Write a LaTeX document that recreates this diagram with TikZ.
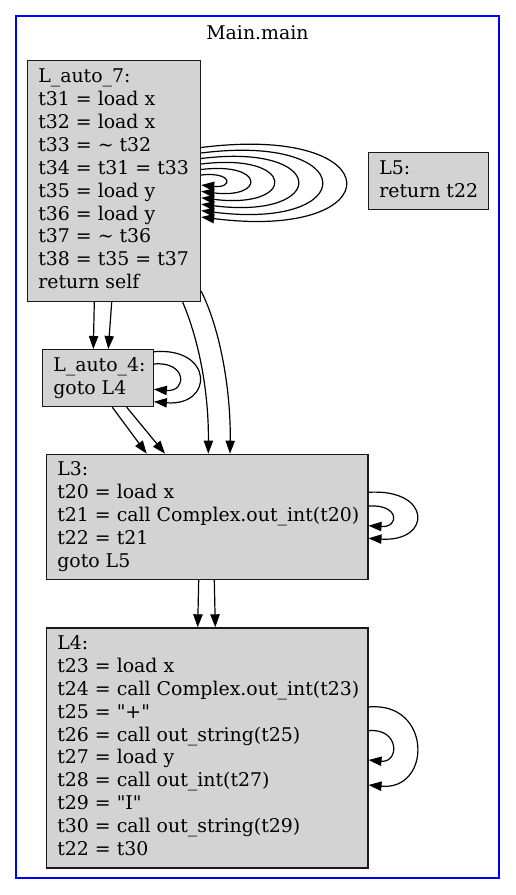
\documentclass[tikz,border=0pt]{standalone}
\usepackage{fontspec}
\newfontfamily\gv{DejaVu Serif}
\usetikzlibrary{arrows.meta,calc}
\definecolor{nodefill}{HTML}{D3D3D3}
\newcommand\gvtext[2]{\makebox[#1][l]{\begin{tabular}{@{}l@{}}#2\end{tabular}}}
\begin{document}
\begin{tikzpicture}[x=1pt,y=-1pt,
  blk/.style={draw=black!90, fill=nodefill, line width=1.2pt, rectangle,
    inner xsep=11pt, inner ysep=0pt, anchor=north west,
    font=\gv\fontsize{18.9}{22.9}\selectfont},
  edge/.style={draw=black, line width=1.2pt, -{Triangle[length=13pt,width=9.3pt]}},
  title/.style={font=\gv\fontsize{18.9}{22.9}\selectfont, inner sep=0pt}
]
\useasboundingbox (0,0) rectangle (515,895);
\draw[blue, line width=1.2pt] (16,16) rectangle (499,878);
\node[title] (ttl) at (257.5,33) {Main.main};

\node[blk, minimum height=241pt] (n7) at (26.7,60) {\gvtext{151.3pt}{L\_auto\_7:\\
t31 = load x\\
t32 = load x\\
t33 = \textasciitilde{} t32\\
t34 = t31 = t33\\
t35 = load y\\
t36 = load y\\
t37 = \textasciitilde{} t36\\
t38 = t35 = t37\\
return self}};

\node[blk, minimum height=57pt] (l5) at (367.7,152) {\gvtext{98.3pt}{L5:\\return t22}};

\node[blk, minimum height=57pt] (n4) at (41.7,349) {\gvtext{89pt}{L\_auto\_4:\\goto L4}};

\node[blk, minimum height=125.3pt] (l3) at (45.7,453.7) {\gvtext{299.6pt}{L3:\\
t20 = load x\\
t21 = call Complex.out\_int(t20)\\
t22 = t21\\
goto L5}};

\node[blk, minimum height=240pt] (l4) at (45.7,627.3) {\gvtext{299.6pt}{L4:\\
t23 = load x\\
t24 = call Complex.out\_int(t23)\\
t25 = \symbol{34}+\symbol{34}\\
t26 = call out\_string(t25)\\
t27 = load y\\
t28 = call out\_int(t27)\\
t29 = \symbol{34}I\symbol{34}\\
t30 = call out\_string(t29)\\
t22 = t30}};

% self loops on L_auto_7
\draw[edge] ($(n7.north east)+(0,115)$) .. controls +(32,-3.5) and +(32,3.5) .. ($(n7.north east)+(0,125)$);
\draw[edge] ($(n7.north east)+(0,109.5)$) .. controls +(64,-7.7) and +(64,7.7) .. ($(n7.north east)+(0,131.4)$);
\draw[edge] ($(n7.north east)+(0,104)$) .. controls +(96,-11.8) and +(96,11.8) .. ($(n7.north east)+(0,137.8)$);
\draw[edge] ($(n7.north east)+(0,98.5)$) .. controls +(128,-16) and +(128,16) .. ($(n7.north east)+(0,144.2)$);
\draw[edge] ($(n7.north east)+(0,93)$) .. controls +(160,-20.2) and +(160,20.2) .. ($(n7.north east)+(0,150.6)$);
\draw[edge] ($(n7.north east)+(0,87.5)$) .. controls +(192,-24.3) and +(192,24.3) .. ($(n7.north east)+(0,157)$);

% L_auto_7 -> L_auto_4
\draw[edge] ($(n7.south west)+(67.6,0)$) -- ($(n4.north west)+(51.6,0)$);
\draw[edge] ($(n7.south west)+(85,0)$) -- ($(n4.north west)+(66.6,0)$);

% L_auto_7 -> L3
\draw[edge] ($(n7.south west)+(156,0)$) .. controls +(17,40) and +(0.5,-60) .. ($(l3.north west)+(162.6,0)$);
\draw[edge] ($(n7.south east)+(0,-11)$) .. controls +(20,40) and +(1,-60) .. ($(l3.north west)+(184.3,0)$);

% self loops on L_auto_4
\draw[edge] ($(n4.north east)+(0,2.7)$) .. controls +(60,-5) and +(60,5) .. ($(n4.north east)+(0,52.7)$);
\draw[edge] ($(n4.north east)+(0,15)$) .. controls +(33.3,-3) and +(33.3,3) .. ($(n4.north east)+(0,40.3)$);

% L_auto_4 -> L3
\draw[edge] ($(n4.south west)+(70.6,0)$) -- ($(l3.north west)+(101,0)$);
\draw[edge] ($(n4.south west)+(85,0)$) -- ($(l3.north west)+(119.3,0)$);

% self loops on L3
\draw[edge] ($(l3.north east)+(0,38.6)$) .. controls +(63.6,-4) and +(63.6,4) .. ($(l3.north east)+(0,84.6)$);
\draw[edge] ($(l3.north east)+(0,52.3)$) .. controls +(31.2,-2) and +(31.2,2) .. ($(l3.north east)+(0,72)$);

% L3 -> L4
\draw[edge] ($(l3.south west)+(153,0)$) -- ($(l4.north west)+(152,0)$);
\draw[edge] ($(l3.south west)+(168.6,0)$) -- ($(l4.north west)+(169.6,0)$);

% self loops on L4
\draw[edge] ($(l4.north east)+(0,79.7)$) .. controls +(63.6,-6) and +(63.6,6) .. ($(l4.north east)+(0,157.7)$);
\draw[edge] ($(l4.north east)+(0,103.4)$) .. controls +(31.2,-3) and +(31.2,3) .. ($(l4.north east)+(0,132.7)$);
\end{tikzpicture}
\end{document}
